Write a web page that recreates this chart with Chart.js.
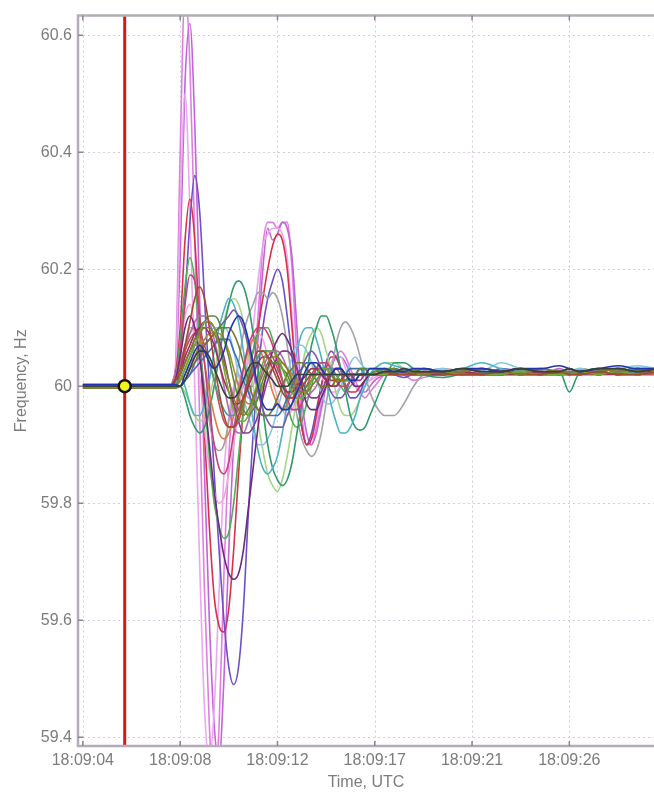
<!DOCTYPE html>
<html><head><meta charset="utf-8">
<script src="https://cdn.jsdelivr.net/npm/chart.js@4"></script>
<style>html,body{margin:0;padding:0;background:#fff;overflow:hidden}canvas{display:block;filter:blur(0.55px)}</style>
</head><body>
<canvas id="c" width="654" height="792"></canvas>
<script>
// time axis in tick units (0 = 18:09:04 label, 1 = 18:09:08 label, ...)
const T = [0, 0.5, 0.9, 0.95,
  1.0, 1.05, 1.1, 1.15, 1.2, 1.25, 1.3, 1.35, 1.4, 1.45, 1.5, 1.55, 1.6, 1.65, 1.7, 1.75, 1.8, 1.85, 1.9, 1.95,
  2.0, 2.05, 2.1, 2.15, 2.2, 2.25, 2.3, 2.35, 2.4, 2.45, 2.5, 2.55, 2.6, 2.65, 2.7, 2.75, 2.8, 2.85, 2.9, 2.95,
  3.0, 3.1, 3.2, 3.3, 3.4, 3.5, 3.7, 3.9, 4.1, 4.3, 4.5, 4.7, 4.9, 5.0, 5.1, 5.3, 5.5, 5.7, 5.9];

const X_TICKS = [0, 1, 2, 3, 4, 5];
const X_LABELS = ['18:09:04', '18:09:08', '18:09:12', '18:09:17', '18:09:21', '18:09:26'];
const Y_TICKS = [59.4, 59.6, 59.8, 60, 60.2, 60.4, 60.6];
const Y_LABELS = ['59.4', '59.6', '59.8', '60', '60.2', '60.4', '60.6'];
const X_MIN = -0.05, X_MAX = 5.87;
const Y_MIN = 59.385, Y_MAX = 60.6335;

const EVENT_T = 0.43;
const EVENT_F = 60.0;

// frequency traces (Hz)
const PINK_A = [60.0, 60.0, 60.002, 60.03,
  60.40, 60.68, 60.55, 60.25, 59.95, 59.65, 59.42, 59.30, 59.42, 59.68, 59.88, 59.98, 60.02, 60.00, 59.98, 60.02, 60.12, 60.24, 60.28, 60.28,
  60.27, 60.28, 60.28, 60.20, 60.05, 59.95, 59.90, 59.90, 59.93, 59.97, 60.00, 60.03, 60.05, 60.06, 60.05, 60.03, 60.01, 59.99, 59.98, 59.99,
  60.00, 60.02, 60.03, 60.02, 60.01, 60.015, 60.02, 60.02, 60.02, 60.025, 60.02, 60.025, 60.025, 60.02, 60.025, 60.025, 60.03, 60.025, 60.03];
const VIOLET_B = [60.0, 60.002, 60.0, 60.02,
  60.22, 60.52, 60.62, 60.45, 60.15, 59.85, 59.60, 59.42, 59.36, 59.50, 59.72, 59.90, 60.00, 60.02, 60.00, 60.00, 60.08, 60.20, 60.27, 60.25,
  60.26, 60.28, 60.27, 60.22, 60.10, 59.98, 59.92, 59.90, 59.92, 59.96, 60.00, 60.03, 60.05, 60.05, 60.04, 60.02, 60.00, 59.99, 59.99, 60.00,
  60.01, 60.02, 60.03, 60.025, 60.02, 60.02, 60.02, 60.025, 60.02, 60.02, 60.025, 60.02, 60.03, 60.025, 60.025, 60.03, 60.025, 60.03, 60.025];
const PINK_C = [60.0, 60.0, 60.0, 60.02,
  60.30, 60.50, 60.30, 60.00, 59.70, 59.45, 59.36, 59.45, 59.65, 59.85, 59.95, 60.00, 60.02, 60.02, 60.04, 60.10, 60.18, 60.24, 60.26, 60.27,
  60.27, 60.26, 60.22, 60.12, 60.00, 59.93, 59.90, 59.91, 59.94, 59.98, 60.01, 60.04, 60.05, 60.05, 60.03, 60.01, 60.00, 59.99, 60.00, 60.01,
  60.02, 60.02, 60.025, 60.02, 60.02, 60.02, 60.025, 60.02, 60.02, 60.02, 60.025, 60.02, 60.025, 60.02, 60.02, 60.025, 60.02, 60.025, 60.025];
const PURPLE = [60.0, 60.0, 59.998, 60.01,
  60.05, 60.15, 60.28, 60.36, 60.30, 60.15, 60.00, 59.85, 59.72, 59.60, 59.52, 59.49, 59.52, 59.62, 59.78, 59.92, 60.02, 60.10, 60.15, 60.18,
  60.20, 60.18, 60.12, 60.05, 59.98, 59.93, 59.90, 59.92, 59.96, 60.00, 60.04, 60.06, 60.05, 60.03, 60.00, 59.98, 59.98, 59.99, 60.01, 60.02,
  60.02, 60.03, 60.02, 60.015, 60.02, 60.02, 60.025, 60.02, 60.02, 60.03, 60.025, 60.02, 60.025, 60.03, 60.025, 60.02, 60.025, 60.03, 60.03];
const RED = [60.0, 60.0, 60.0, 60.02,
  60.10, 60.25, 60.32, 60.25, 60.10, 59.92, 59.76, 59.64, 59.59, 59.58, 59.62, 59.72, 59.85, 59.96, 60.02, 60.06, 60.10, 60.15, 60.20, 60.24,
  60.26, 60.25, 60.20, 60.10, 60.00, 59.93, 59.90, 59.91, 59.95, 60.00, 60.03, 60.05, 60.05, 60.03, 60.00, 59.99, 59.99, 60.00, 60.01, 60.02,
  60.02, 60.02, 60.025, 60.02, 60.02, 60.02, 60.02, 60.025, 60.02, 60.025, 60.03, 60.02, 60.025, 60.02, 60.03, 60.025, 60.03, 60.025, 60.025];
const GREEN_A = [60.0, 59.998, 60.0, 60.01,
  60.08, 60.17, 60.22, 60.18, 60.08, 59.98, 59.88, 59.80, 59.76, 59.74, 59.75, 59.80, 59.88, 59.96, 60.02, 60.06, 60.09, 60.10, 60.10, 60.08,
  60.05, 60.01, 59.97, 59.94, 59.93, 59.94, 59.97, 60.00, 60.03, 60.04, 60.04, 60.03, 60.01, 60.00, 59.99, 60.00, 60.01, 60.02, 60.02, 60.02,
  60.02, 60.02, 60.02, 60.025, 60.02, 60.02, 60.025, 60.02, 60.02, 60.02, 60.025, 60.02, 60.025, 60.02, 60.025, 60.02, 60.025, 60.025, 60.03];
const GREEN_B = [59.997, 59.997, 59.997, 59.997,
  60.00, 59.98, 59.95, 59.93, 59.92, 59.93, 59.96, 60.00, 60.05, 60.10, 60.14, 60.17, 60.18, 60.17, 60.14, 60.09, 60.03, 59.96, 59.90, 59.86,
  59.84, 59.83, 59.84, 59.87, 59.92, 59.97, 60.02, 60.07, 60.10, 60.12, 60.12, 60.10, 60.07, 60.03, 59.99, 59.95, 59.93, 59.925, 59.93, 59.95,
  59.97, 60.01, 60.04, 60.04, 60.03, 60.02, 60.015, 60.02, 60.02, 60.025, 60.02, 60.02, 60.025, 59.99, 60.02, 60.02, 60.025, 60.03, 60.025];
const TEAL = [60.003, 60.003, 60.003, 60.003,
  60.02, 60.00, 59.97, 59.95, 59.95, 59.97, 60.01, 60.06, 60.10, 60.13, 60.15, 60.14, 60.11, 60.06, 60.00, 59.94, 59.89, 59.86, 59.85, 59.86,
  59.88, 59.92, 59.97, 60.02, 60.06, 60.09, 60.10, 60.10, 60.08, 60.05, 60.01, 59.97, 59.94, 59.92, 59.92, 59.93, 59.95, 59.98, 60.00, 60.02,
  60.03, 60.04, 60.035, 60.03, 60.02, 60.02, 60.025, 60.03, 60.04, 60.03, 60.025, 60.02, 60.025, 60.02, 60.025, 60.03, 60.025, 60.02, 60.025];
const GREY = [60.0, 60.0, 60.0, 60.0,
  60.02, 60.06, 60.10, 60.10, 60.06, 60.00, 59.94, 59.90, 59.89, 59.90, 59.94, 59.99, 60.04, 60.09, 60.12, 60.14, 60.16, 60.16, 60.15, 60.16,
  60.15, 60.12, 60.07, 60.01, 59.95, 59.91, 59.89, 59.88, 59.89, 59.92, 59.97, 60.02, 60.07, 60.10, 60.11, 60.10, 60.08, 60.05, 60.02, 59.99,
  59.97, 59.95, 59.95, 59.97, 60.00, 60.02, 60.03, 60.025, 60.02, 60.02, 60.025, 60.02, 60.02, 60.025, 60.02, 60.025, 60.02, 60.025, 60.02];
const PINK_LIGHT = [60.0, 60.0, 60.0, 60.01,
  60.06, 60.12, 60.14, 60.10, 60.02, 59.93, 59.86, 59.82, 59.80, 59.81, 59.85, 59.90, 59.96, 60.01, 60.05, 60.08, 60.09, 60.08, 60.05, 60.01,
  59.98, 59.96, 59.95, 59.96, 59.98, 60.01, 60.03, 60.04, 60.04, 60.02, 60.00, 59.99, 59.99, 60.00, 60.01, 60.02, 60.02, 60.02, 60.01, 60.01,
  60.015, 60.02, 60.02, 60.02, 60.025, 60.02, 60.02, 60.025, 60.02, 60.02, 60.02, 60.025, 60.02, 60.02, 60.025, 60.02, 60.02, 60.025, 60.02];
const BLUE = [60.003, 60.003, 60.003, 60.003,
  60.00, 60.02, 60.04, 60.06, 60.07, 60.06, 60.04, 60.03, 60.04, 60.06, 60.09, 60.11, 60.12, 60.11, 60.08, 60.04, 60.00, 59.97, 59.96, 59.96,
  59.97, 59.96, 59.96, 59.97, 59.99, 60.01, 60.03, 60.04, 60.04, 60.03, 60.02, 60.02, 60.03, 60.03, 60.02, 60.01, 60.01, 60.02, 60.02, 60.03,
  60.03, 60.03, 60.025, 60.025, 60.03, 60.03, 60.025, 60.03, 60.03, 60.025, 60.03, 60.03, 60.035, 60.03, 60.025, 60.03, 60.035, 60.03, 60.03];
const DARK_PURPLE = [60.0, 60.0, 60.0, 60.01,
  60.05, 60.10, 60.12, 60.10, 60.05, 59.98, 59.90, 59.82, 59.76, 59.71, 59.68, 59.67, 59.68, 59.72, 59.79, 59.86, 59.93, 59.99, 60.03, 60.06,
  60.08, 60.09, 60.08, 60.06, 60.03, 60.00, 59.97, 59.96, 59.96, 59.98, 60.00, 60.02, 60.03, 60.03, 60.02, 60.01, 60.00, 60.00, 60.01, 60.02,
  60.02, 60.025, 60.02, 60.02, 60.025, 60.02, 60.02, 60.025, 60.02, 60.02, 60.025, 60.02, 60.02, 60.025, 60.02, 60.025, 60.02, 60.025, 60.025];
const OLIVE = [59.997, 59.997, 59.997, 59.997,
  60.02, 60.04, 60.06, 60.08, 60.09, 60.10, 60.10, 60.09, 60.07, 60.04, 60.01, 59.98, 59.96, 59.95, 59.96, 59.98, 60.00, 60.02, 60.04, 60.05,
  60.05, 60.04, 60.03, 60.01, 60.00, 59.99, 59.99, 60.00, 60.01, 60.02, 60.02, 60.02, 60.01, 60.01, 60.01, 60.02, 60.02, 60.02, 60.02, 60.02,
  60.02, 60.025, 60.025, 60.03, 60.025, 60.02, 60.025, 60.025, 60.03, 60.025, 60.02, 60.03, 60.025, 60.025, 60.025, 60.03, 60.025, 60.03, 60.025];
const BROWN = [60.002, 60.002, 60.002, 60.01,
  60.03, 60.07, 60.11, 60.15, 60.17, 60.15, 60.10, 60.04, 59.99, 59.95, 59.93, 59.93, 59.95, 59.98, 60.01, 60.04, 60.06, 60.06, 60.05, 60.03,
  60.01, 59.99, 59.98, 59.98, 59.99, 60.00, 60.01, 60.02, 60.02, 60.02, 60.02, 60.01, 60.01, 60.01, 60.02, 60.02, 60.02, 60.02, 60.02, 60.02,
  60.02, 60.025, 60.02, 60.02, 60.02, 60.025, 60.02, 60.02, 60.02, 60.025, 60.02, 60.02, 60.025, 60.02, 60.02, 60.025, 60.02, 60.02, 60.025];
const YGREEN = [59.998, 59.998, 59.998, 59.998,
  60.01, 60.03, 60.05, 60.07, 60.09, 60.11, 60.11, 60.10, 60.07, 60.03, 59.99, 59.96, 59.94, 59.94, 59.95, 59.98, 60.01, 60.04, 60.06, 60.06,
  60.05, 60.03, 60.01, 59.99, 59.98, 59.98, 59.99, 60.01, 60.02, 60.03, 60.03, 60.02, 60.02, 60.01, 60.01, 60.02, 60.02, 60.02, 60.02, 60.02,
  60.02, 60.02, 60.025, 60.02, 60.02, 60.02, 60.025, 60.02, 60.02, 60.02, 60.025, 60.02, 60.02, 60.02, 60.025, 60.02, 60.025, 60.02, 60.025];
const LIGHT_BLUE = [60.0, 60.0, 60.0, 60.0,
  60.00, 60.01, 60.03, 60.05, 60.07, 60.08, 60.09, 60.10, 60.10, 60.10, 60.09, 60.06, 60.02, 59.98, 59.95, 59.92, 59.90, 59.90, 59.91, 59.93,
  59.96, 59.99, 60.02, 60.05, 60.07, 60.07, 60.06, 60.04, 60.01, 59.99, 59.97, 59.97, 59.98, 60.00, 60.02, 60.04, 60.05, 60.04, 60.03, 60.02,
  60.02, 60.02, 60.025, 60.03, 60.03, 60.025, 60.03, 60.02, 60.025, 60.04, 60.03, 60.025, 60.02, 60.025, 60.03, 60.025, 60.03, 60.035, 60.03];
const LIGHT_GREEN = [60.0, 60.0, 60.0, 60.0,
  60.00, 59.99, 59.97, 59.95, 59.94, 59.95, 59.98, 60.02, 60.07, 60.11, 60.14, 60.15, 60.14, 60.11, 60.06, 60.00, 59.94, 59.89, 59.85, 59.83,
  59.82, 59.84, 59.88, 59.93, 59.98, 60.03, 60.07, 60.09, 60.10, 60.09, 60.06, 60.03, 59.99, 59.96, 59.95, 59.95, 59.96, 59.98, 60.00, 60.02,
  60.03, 60.04, 60.04, 60.03, 60.025, 60.02, 60.02, 60.025, 60.02, 60.02, 60.025, 60.02, 60.025, 60.02, 60.02, 60.025, 60.03, 60.025, 60.02];
const ORANGE = [60.0, 60.0, 60.0, 60.02,
  60.02, 60.06, 60.09, 60.10, 60.08, 60.04, 59.99, 59.95, 59.92, 59.91, 59.92, 59.95, 59.99, 60.03, 60.06, 60.08, 60.07, 60.05, 60.02, 59.99,
  59.97, 59.96, 59.97, 59.99, 60.01, 60.03, 60.04, 60.04, 60.03, 60.02, 60.01, 60.00, 60.00, 60.01, 60.02, 60.02, 60.02, 60.02, 60.02, 60.02,
  60.02, 60.02, 60.02, 60.025, 60.02, 60.02, 60.025, 60.02, 60.02, 60.025, 60.02, 60.02, 60.02, 60.025, 60.02, 60.02, 60.025, 60.02, 60.02];
const MAG_RED = [60.0, 60.0, 60.0, 60.01,
  60.06, 60.14, 60.19, 60.18, 60.12, 60.04, 59.96, 59.90, 59.86, 59.85, 59.87, 59.92, 59.98, 60.03, 60.07, 60.09, 60.10, 60.10, 60.09, 60.07,
  60.04, 60.01, 59.98, 59.96, 59.96, 59.97, 59.99, 60.01, 60.03, 60.04, 60.04, 60.03, 60.02, 60.01, 60.01, 60.01, 60.02, 60.02, 60.02, 60.02,
  60.02, 60.02, 60.02, 60.025, 60.02, 60.02, 60.02, 60.025, 60.02, 60.02, 60.025, 60.02, 60.02, 60.025, 60.02, 60.025, 60.02, 60.02, 60.025];
const DARK = [60.0, 60.0, 60.0, 60.0,
  60.00, 60.01, 60.03, 60.05, 60.06, 60.06, 60.05, 60.03, 60.01, 59.99, 59.98, 59.98, 59.99, 60.01, 60.03, 60.04, 60.04, 60.03, 60.02, 60.01,
  60.00, 60.00, 60.00, 60.01, 60.02, 60.02, 60.02, 60.02, 60.02, 60.02, 60.02, 60.02, 60.02, 60.02, 60.02, 60.02, 60.02, 60.02, 60.02, 60.02,
  60.02, 60.025, 60.025, 60.03, 60.025, 60.025, 60.025, 60.03, 60.025, 60.025, 60.03, 60.025, 60.025, 60.03, 60.025, 60.03, 60.03, 60.025, 60.03];
const CL_GREEN = [60.002, 60.002, 60.002, 60.002,
  60.01, 60.03, 60.05, 60.07, 60.09, 60.11, 60.12, 60.12, 60.11, 60.08, 60.05, 60.01, 59.98, 59.96, 59.95, 59.96, 59.98, 60.01, 60.03, 60.04,
  60.04, 60.03, 60.02, 60.00, 59.99, 59.99, 60.00, 60.01, 60.02, 60.03, 60.03, 60.02, 60.01, 60.01, 60.01, 60.02, 60.02, 60.03, 60.03, 60.02,
  60.025, 60.03, 60.03, 60.025, 60.025, 60.03, 60.025, 60.025, 60.03, 60.025, 60.025, 60.03, 60.025, 60.03, 60.025, 60.025, 60.03, 60.025, 60.03];
const CL_STEEL = [59.998, 59.998, 59.998, 59.998,
  60.00, 60.01, 60.02, 60.03, 60.04, 60.05, 60.06, 60.07, 60.08, 60.08, 60.08, 60.06, 60.04, 60.01, 59.99, 59.97, 59.96, 59.95, 59.95, 59.95,
  59.95, 59.96, 59.98, 60.00, 60.02, 60.03, 60.04, 60.04, 60.03, 60.02, 60.01, 60.00, 60.00, 60.01, 60.02, 60.03, 60.03, 60.03, 60.02, 60.02,
  60.02, 60.025, 60.03, 60.025, 60.02, 60.02, 60.025, 60.02, 60.02, 60.025, 60.03, 60.02, 60.025, 60.02, 60.025, 60.02, 60.025, 60.03, 60.025];
const CL_WINE = [60.0, 60.0, 60.0, 60.01,
  60.02, 60.05, 60.07, 60.09, 60.10, 60.10, 60.09, 60.07, 60.04, 60.01, 59.99, 59.97, 59.97, 59.98, 60.00, 60.02, 60.04, 60.05, 60.05, 60.04,
  60.02, 60.00, 59.99, 59.99, 60.00, 60.01, 60.02, 60.03, 60.03, 60.02, 60.01, 60.00, 60.00, 60.01, 60.02, 60.02, 60.02, 60.02, 60.02, 60.02,
  60.02, 60.02, 60.02, 60.025, 60.02, 60.02, 60.02, 60.025, 60.02, 60.02, 60.02, 60.025, 60.02, 60.02, 60.025, 60.02, 60.02, 60.02, 60.025];
const CL_MUSTARD = [60.002, 60.002, 60.002, 60.002,
  60.01, 60.02, 60.04, 60.05, 60.07, 60.08, 60.09, 60.09, 60.09, 60.08, 60.06, 60.03, 60.00, 59.98, 59.97, 59.97, 59.98, 60.00, 60.02, 60.03,
  60.04, 60.04, 60.03, 60.02, 60.01, 60.00, 60.00, 60.01, 60.02, 60.02, 60.02, 60.02, 60.01, 60.01, 60.01, 60.02, 60.02, 60.02, 60.02, 60.02,
  60.02, 60.02, 60.025, 60.02, 60.02, 60.02, 60.02, 60.025, 60.02, 60.02, 60.025, 60.02, 60.02, 60.02, 60.02, 60.025, 60.02, 60.025, 60.02];
const CL_LAVENDER = [60.0, 60.0, 60.0, 60.0,
  60.00, 60.01, 60.02, 60.04, 60.05, 60.07, 60.08, 60.09, 60.10, 60.11, 60.12, 60.13, 60.12, 60.10, 60.07, 60.03, 59.99, 59.96, 59.94, 59.93,
  59.93, 59.93, 59.95, 59.97, 60.00, 60.03, 60.05, 60.06, 60.05, 60.03, 60.01, 59.99, 59.98, 59.98, 59.99, 60.01, 60.02, 60.03, 60.03, 60.02,
  60.02, 60.02, 60.025, 60.03, 60.025, 60.02, 60.02, 60.025, 60.03, 60.025, 60.02, 60.025, 60.02, 60.025, 60.02, 60.025, 60.03, 60.025, 60.025];
const CL_DTEAL = [60.003, 60.003, 60.003, 60.003,
  60.02, 60.04, 60.06, 60.07, 60.07, 60.06, 60.04, 60.01, 59.98, 59.96, 59.95, 59.95, 59.96, 59.98, 60.01, 60.03, 60.05, 60.06, 60.06, 60.06,
  60.05, 60.03, 60.01, 59.99, 59.98, 59.98, 59.99, 60.01, 60.02, 60.03, 60.03, 60.03, 60.02, 60.01, 60.01, 60.01, 60.02, 60.02, 60.03, 60.03,
  60.03, 60.025, 60.02, 60.02, 60.025, 60.02, 60.02, 60.03, 60.025, 60.02, 60.025, 60.02, 60.02, 60.025, 60.02, 60.025, 60.02, 60.025, 60.03];
const CL_PLUM = [60.0, 60.0, 60.0, 60.01,
  60.02, 60.04, 60.06, 60.08, 60.10, 60.11, 60.11, 60.10, 60.08, 60.05, 60.01, 59.97, 59.94, 59.92, 59.92, 59.93, 59.95, 59.98, 60.01, 60.03,
  60.05, 60.06, 60.06, 60.05, 60.03, 60.01, 59.99, 59.98, 59.98, 59.99, 60.01, 60.02, 60.03, 60.03, 60.02, 60.02, 60.01, 60.01, 60.02, 60.02,
  60.02, 60.02, 60.025, 60.02, 60.02, 60.025, 60.02, 60.02, 60.02, 60.025, 60.02, 60.02, 60.025, 60.02, 60.02, 60.025, 60.02, 60.02, 60.025];
const CL_ROSE = [60.0, 60.0, 60.0, 60.01,
  60.03, 60.06, 60.08, 60.09, 60.09, 60.07, 60.04, 60.01, 59.97, 59.94, 59.93, 59.93, 59.94, 59.97, 60.00, 60.03, 60.05, 60.06, 60.06, 60.05,
  60.03, 60.01, 59.99, 59.98, 59.98, 59.99, 60.00, 60.02, 60.03, 60.03, 60.03, 60.02, 60.01, 60.00, 60.00, 60.01, 60.02, 60.02, 60.02, 60.02,
  60.02, 60.02, 60.02, 60.02, 60.025, 60.02, 60.02, 60.02, 60.025, 60.02, 60.02, 60.02, 60.025, 60.02, 60.02, 60.02, 60.025, 60.02, 60.02];
const CL_DOLIVE = [59.997, 59.997, 59.997, 59.997,
  60.00, 60.01, 60.03, 60.04, 60.06, 60.07, 60.08, 60.09, 60.10, 60.10, 60.10, 60.09, 60.07, 60.04, 60.01, 59.98, 59.96, 59.95, 59.95, 59.96,
  59.98, 60.00, 60.02, 60.03, 60.04, 60.04, 60.03, 60.02, 60.01, 60.00, 60.00, 60.00, 60.01, 60.02, 60.02, 60.02, 60.02, 60.02, 60.02, 60.02,
  60.025, 60.025, 60.03, 60.025, 60.025, 60.03, 60.025, 60.025, 60.03, 60.025, 60.03, 60.025, 60.025, 60.03, 60.025, 60.025, 60.03, 60.025, 60.03];
const CL_ORCHID = [60.0, 60.0, 60.0, 60.02,
  60.04, 60.07, 60.09, 60.11, 60.12, 60.12, 60.11, 60.08, 60.04, 60.00, 59.96, 59.93, 59.92, 59.92, 59.94, 59.97, 60.00, 60.03, 60.05, 60.06,
  60.06, 60.05, 60.03, 60.01, 59.99, 59.98, 59.98, 59.99, 60.00, 60.02, 60.03, 60.03, 60.03, 60.02, 60.01, 60.01, 60.01, 60.02, 60.02, 60.02,
  60.02, 60.025, 60.02, 60.02, 60.02, 60.025, 60.02, 60.02, 60.025, 60.02, 60.02, 60.025, 60.02, 60.02, 60.025, 60.02, 60.025, 60.02, 60.02];

// drawn top-most first
const SERIES = [
  [DARK, '#35403f'], [BLUE, '#2233b0'], [OLIVE, '#877c2c'], [BROWN, '#a44a2e'], [YGREEN, '#76a834'],
  [CL_GREEN, '#5a8a3a'], [CL_WINE, '#9a2f5a'], [CL_DOLIVE, '#6e7a30'], [CL_PLUM, '#8a3a8a'], [CL_DTEAL, '#4a9a9a'],
  [DARK_PURPLE, '#6c2a7e'], [CL_STEEL, '#3b6fb0'], [CL_MUSTARD, '#b08a30'], [CL_ROSE, '#c05060'], [CL_LAVENDER, '#7a5aa8'],
  [CL_ORCHID, '#b06ab0'], [MAG_RED, '#c8407a'], [ORANGE, '#de7e3e'], [TEAL, '#4cb4c4'], [GREEN_B, '#2f9a6a'],
  [GREEN_A, '#4fae55'], [LIGHT_BLUE, '#86c6e6'], [LIGHT_GREEN, '#a6d684'], [GREY, '#a2a2a8'], [PINK_LIGHT, '#f0a6d6'],
  [RED, '#d8304a'], [PURPLE, '#6c50c8'], [PINK_C, '#eaa8ee'], [VIOLET_B, '#c264d6'], [PINK_A, '#e07ee0']
];

const datasets = [
  { data: [{x: EVENT_T, y: EVENT_F}], showLine: false, pointRadius: 6, pointBorderWidth: 2.5,
    pointBackgroundColor: '#f2f21e', pointBorderColor: '#111', borderColor: '#111' },
  { data: [{x: EVENT_T, y: Y_MIN}, {x: EVENT_T, y: Y_MAX}], borderColor: '#d81818', borderWidth: 3, pointRadius: 0 }
];
SERIES.forEach(([vals, col]) => {
  datasets.push({
    data: T.map((t, i) => ({x: t, y: vals[i]})),
    borderColor: col, borderWidth: 1.6, pointRadius: 0, cubicInterpolationMode: 'monotone'
  });
});

const FONT = {family: "'Liberation Sans', Arial, sans-serif", size: 16};
const TXT = '#7c7c7c';

const frame = {
  id: 'frame',
  beforeDatasetsDraw(chart) {
    const {ctx, chartArea: a, scales: {x, y}} = chart;
    ctx.save();
    ctx.strokeStyle = 'rgba(200,185,205,0.75)';
    ctx.lineWidth = 1;
    ctx.setLineDash([2, 3]);
    ctx.beginPath();
    X_TICKS.forEach(v => { const p = Math.round(x.getPixelForValue(v)) + 0.5; ctx.moveTo(p, a.top); ctx.lineTo(p, a.bottom); });
    Y_TICKS.forEach(v => { const p = Math.round(y.getPixelForValue(v)) + 0.5; ctx.moveTo(a.left, p); ctx.lineTo(a.right, p); });
    ctx.stroke();
    ctx.restore();
  },
  afterDatasetsDraw(chart) {
    const {ctx, chartArea: a, scales: {x, y}} = chart;
    ctx.save();
    ctx.strokeStyle = '#b4acb8';
    ctx.lineWidth = 2.5;
    ctx.beginPath();
    ctx.moveTo(a.right, a.top); ctx.lineTo(a.left, a.top); ctx.lineTo(a.left, a.bottom); ctx.lineTo(a.right, a.bottom);
    ctx.stroke();
    ctx.strokeStyle = '#8c8490';
    ctx.lineWidth = 1.5;
    ctx.beginPath();
    X_TICKS.forEach(v => { const p = x.getPixelForValue(v); ctx.moveTo(p, a.bottom); ctx.lineTo(p, a.bottom - 5); ctx.moveTo(p, a.top); ctx.lineTo(p, a.top + 5); });
    Y_TICKS.forEach(v => { const p = y.getPixelForValue(v); ctx.moveTo(a.left, p); ctx.lineTo(a.left + 5, p); });
    ctx.stroke();
    ctx.restore();
  }
};

new Chart(document.getElementById('c'), {
  type: 'line',
  data: { datasets },
  options: {
    responsive: false, animation: false, events: [],
    layout: { autoPadding: false, padding: { top: 12, right: 0, bottom: 0, left: 0 } },
    plugins: { legend: { display: false }, tooltip: { enabled: false } },
    scales: {
      x: {
        type: 'linear', min: X_MIN, max: X_MAX,
        afterBuildTicks: s => { s.ticks = X_TICKS.map(v => ({value: v})); },
        afterFit: s => { s.height = 46; },
        grid: { display: false, drawTicks: false }, border: { display: false },
        ticks: { autoSkip: false, maxRotation: 0, padding: 5, color: TXT, font: FONT,
          callback: (v, i) => X_LABELS[i] },
        title: { display: true, text: 'Time, UTC', color: TXT, font: FONT, padding: { top: 0, bottom: 0 } }
      },
      y: {
        min: Y_MIN, max: Y_MAX,
        afterBuildTicks: s => { s.ticks = Y_TICKS.map(v => ({value: v})); },
        afterFit: s => { s.width = 78; },
        grid: { display: false, drawTicks: false }, border: { display: false },
        ticks: { autoSkip: false, padding: 6, color: TXT, font: FONT,
          callback: (v, i) => Y_LABELS[i] },
        title: { display: true, text: 'Frequency, Hz', color: TXT, font: FONT, padding: { top: 12, bottom: 0 } }
      }
    }
  },
  plugins: [frame]
});
</script>
</body></html>
